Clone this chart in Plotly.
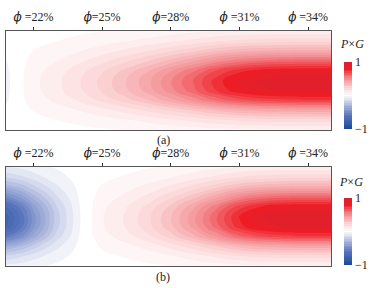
import numpy as np
import plotly.graph_objects as go

# porosity positions (%) of the grid columns
PHI = [20.8, 21.5, 22, 23, 24, 25, 26, 27, 28, 29, 30, 31, 32, 33, 34, 35]
# normalised height (0 = bottom, 1 = top) of the grid rows
HEIGHT = [0.0, 0.1, 0.2, 0.3, 0.4, 0.5, 0.6, 0.7, 0.8, 0.9, 1.0]

# P x G along the core row
CORE_A = [-0.04, 0.02, 0.06, 0.11, 0.17, 0.24, 0.32, 0.41, 0.52, 0.63, 0.75, 0.84, 0.89, 0.91, 0.92, 0.92]
CORE_B = [-0.75, -0.6, -0.45, -0.2, -0.03, 0.07, 0.13, 0.21, 0.32, 0.46, 0.62, 0.78, 0.87, 0.91, 0.92, 0.92]
# relative vertical profile across the layer
PROFILE = [0.08, 0.22, 0.45, 0.78, 0.97, 1.0, 0.90, 0.66, 0.42, 0.22, 0.10]

TICK_VALS = [22, 25, 28, 31, 34]
PHI_SYM = "<span style='font-family:DejaVu Serif'><i>ϕ</i></span>"
TICK_TEXT = [PHI_SYM + " =22%", PHI_SYM + "=25%", PHI_SYM + "=28%", PHI_SYM + " =31%", PHI_SYM + " =34%"]
PANEL_LABELS = ["(a)", "(b)"]
CB_TITLE = "<i>P</i>×<i>G</i>"

z_a = np.outer(PROFILE, CORE_A)
z_b = np.outer(PROFILE, CORE_B)

cscale = [
    [0.0, "#1a4899"], [0.2, "#5a75bd"], [0.35, "#aab5dc"], [0.5, "#ffffff"],
    [0.62, "#fbd3d4"], [0.76, "#f38a8e"], [0.9, "#ee1d25"], [1.0, "#d42330"],
]
FONT = "Liberation Serif, Times New Roman, serif"
FS = 12


def contour(z, xa, ya, cb_y, cb_len):
    return go.Contour(
        x=PHI, y=HEIGHT, z=z, xaxis=xa, yaxis=ya,
        colorscale=cscale, zmin=-1, zmax=1,
        contours=dict(start=-1.175, end=1.175, size=0.05, coloring="fill", showlines=False),
        line=dict(width=0, smoothing=1.3),
        colorbar=dict(
            x=344 / 382, xanchor="left", xpad=0, ypad=0, y=cb_y, yanchor="middle",
            len=cb_len, thickness=8, outlinewidth=0, tickvals=[-1, 1], ticktext=["−1", "1"],
            ticks="", tickfont=dict(family=FONT, size=FS, color="#222"),
        ),
        hoverinfo="skip",
    )


fig = go.Figure([
    contour(z_a, "x", "y", 1 - 95 / 288, 67 / 288),
    contour(z_b, "x2", "y2", 1 - 231 / 288, 67 / 288),
])

xcommon = dict(
    range=[20.8, 35], side="top", tickvals=TICK_VALS, ticktext=TICK_TEXT,
    ticks="outside", ticklen=3, tickcolor="#333", showline=True, mirror=True,
    linecolor="#555", linewidth=1, showgrid=False, zeroline=False, automargin=False,
    tickfont=dict(family=FONT, size=FS, color="#222"), ticklabelstandoff=1,
)
ycommon = dict(
    range=[0, 1], showticklabels=False, ticks="", showline=True, mirror=True,
    linecolor="#555", linewidth=1, showgrid=False, zeroline=False, automargin=False,
)
xd = [6 / 382, 331 / 382]


def ann(text, x, y):
    return dict(text=text, x=x / 382, y=1 - y / 288, xref="paper", yref="paper",
                xanchor="center", yanchor="middle", showarrow=False,
                font=dict(family=FONT, size=FS, color="#222"))


fig.update_layout(
    width=382, height=288, margin=dict(l=0, r=0, t=0, b=0, autoexpand=False),
    paper_bgcolor="white", plot_bgcolor="white", showlegend=False,
    xaxis=dict(domain=xd, anchor="y", **xcommon),
    yaxis=dict(domain=[1 - 130 / 288, 1 - 31 / 288], anchor="x", **ycommon),
    xaxis2=dict(domain=xd, anchor="y2", **xcommon),
    yaxis2=dict(domain=[1 - 266 / 288, 1 - 167 / 288], anchor="x2", **ycommon),
    annotations=[
        ann(PANEL_LABELS[0], 163, 140),
        ann(PANEL_LABELS[1], 163, 277),
        ann(CB_TITLE, 352, 44),
        ann(CB_TITLE, 351, 182),
    ],
)
fig.write_html("out.html", post_script="document.body.style.margin='0';",
               config={"displayModeBar": False})
